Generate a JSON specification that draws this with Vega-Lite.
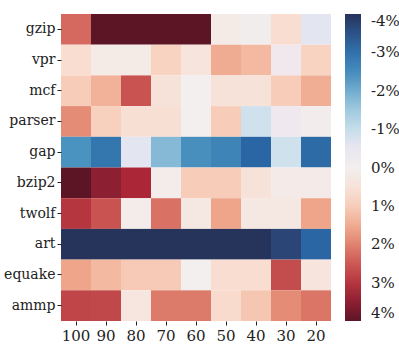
{
  "$schema": "https://vega.github.io/schema/vega-lite/v6.json",
  "autosize": "none",
  "width": 270,
  "height": 307,
  "padding": {"left": 61, "top": 14, "right": 68, "bottom": 26},
  "background": "white",
  "config": {
    "view": {"stroke": null},
    "font": "DejaVu Serif",
    "axis": {"labelFont": "DejaVu Serif", "labelFontSize": 15, "labelColor": "#222", "domain": false, "grid": false, "tickColor": "#222", "tickSize": 4, "title": null},
    "legend": {"labelFont": "DejaVu Serif", "labelFontSize": 15, "labelColor": "#222"}
  },
  "data": {"values": [
    {"b":"gzip","p":"100","v":2.3},{"b":"gzip","p":"90","v":4},{"b":"gzip","p":"80","v":4},{"b":"gzip","p":"70","v":4},{"b":"gzip","p":"60","v":4},{"b":"gzip","p":"50","v":0.2},{"b":"gzip","p":"40","v":-0.1},{"b":"gzip","p":"30","v":0.7},{"b":"gzip","p":"20","v":-0.6},
    {"b":"vpr","p":"100","v":0.7},{"b":"vpr","p":"90","v":0.2},{"b":"vpr","p":"80","v":0.2},{"b":"vpr","p":"70","v":0.9},{"b":"vpr","p":"60","v":0.4},{"b":"vpr","p":"50","v":1.5},{"b":"vpr","p":"40","v":1.3},{"b":"vpr","p":"30","v":-0.3},{"b":"vpr","p":"20","v":0.9},
    {"b":"mcf","p":"100","v":1.0},{"b":"mcf","p":"90","v":1.4},{"b":"mcf","p":"80","v":2.6},{"b":"mcf","p":"70","v":0.5},{"b":"mcf","p":"60","v":0.0},{"b":"mcf","p":"50","v":0.5},{"b":"mcf","p":"40","v":0.5},{"b":"mcf","p":"30","v":1.0},{"b":"mcf","p":"20","v":1.45},
    {"b":"parser","p":"100","v":1.9},{"b":"parser","p":"90","v":0.95},{"b":"parser","p":"80","v":0.6},{"b":"parser","p":"70","v":0.6},{"b":"parser","p":"60","v":0.0},{"b":"parser","p":"50","v":1.0},{"b":"parser","p":"40","v":-0.9},{"b":"parser","p":"30","v":-0.35},{"b":"parser","p":"20","v":-0.15},
    {"b":"gap","p":"100","v":-2.4},{"b":"gap","p":"90","v":-2.9},{"b":"gap","p":"80","v":-0.6},{"b":"gap","p":"70","v":-1.8},{"b":"gap","p":"60","v":-2.45},{"b":"gap","p":"50","v":-2.65},{"b":"gap","p":"40","v":-3.2},{"b":"gap","p":"30","v":-0.9},{"b":"gap","p":"20","v":-3.1},
    {"b":"bzip2","p":"100","v":4},{"b":"bzip2","p":"90","v":3.5},{"b":"bzip2","p":"80","v":3.2},{"b":"bzip2","p":"70","v":0.1},{"b":"bzip2","p":"60","v":1.0},{"b":"bzip2","p":"50","v":1.0},{"b":"bzip2","p":"40","v":0.5},{"b":"bzip2","p":"30","v":0.15},{"b":"bzip2","p":"20","v":0.15},
    {"b":"twolf","p":"100","v":3.0},{"b":"twolf","p":"90","v":2.6},{"b":"twolf","p":"80","v":0.1},{"b":"twolf","p":"70","v":2.2},{"b":"twolf","p":"60","v":0.3},{"b":"twolf","p":"50","v":1.6},{"b":"twolf","p":"40","v":0.3},{"b":"twolf","p":"30","v":0.3},{"b":"twolf","p":"20","v":1.6},
    {"b":"art","p":"100","v":-4},{"b":"art","p":"90","v":-4},{"b":"art","p":"80","v":-4},{"b":"art","p":"70","v":-4},{"b":"art","p":"60","v":-4},{"b":"art","p":"50","v":-4},{"b":"art","p":"40","v":-4},{"b":"art","p":"30","v":-3.7},{"b":"art","p":"20","v":-3.2},
    {"b":"equake","p":"100","v":1.6},{"b":"equake","p":"90","v":1.3},{"b":"equake","p":"80","v":1.05},{"b":"equake","p":"70","v":1.05},{"b":"equake","p":"60","v":0.0},{"b":"equake","p":"50","v":0.7},{"b":"equake","p":"40","v":0.7},{"b":"equake","p":"30","v":2.7},{"b":"equake","p":"20","v":0.4},
    {"b":"ammp","p":"100","v":2.8},{"b":"ammp","p":"90","v":2.75},{"b":"ammp","p":"80","v":0.35},{"b":"ammp","p":"70","v":2.1},{"b":"ammp","p":"60","v":2.1},{"b":"ammp","p":"50","v":0.75},{"b":"ammp","p":"40","v":1.1},{"b":"ammp","p":"30","v":1.9},{"b":"ammp","p":"20","v":2.15}
  ]},
  "mark": {"type": "rect"},
  "encoding": {
    "x": {"field": "p", "type": "ordinal", "sort": ["100","90","80","70","60","50","40","30","20"], "scale": {"paddingInner": 0, "paddingOuter": 0}, "axis": {"labelAngle": 0, "labelPadding": 3}},
    "y": {"field": "b", "type": "ordinal", "sort": ["gzip","vpr","mcf","parser","gap","bzip2","twolf","art","equake","ammp"], "scale": {"paddingInner": 0, "paddingOuter": 0}, "axis": {"labelPadding": 2, "labelFontSize": 14}},
    "color": {"field": "v", "type": "quantitative",
      "scale": {"domain": [4, 3.2, 2.4, 1.6, 0.8, 0, -0.8, -1.6, -2.4, -3.2, -4], "range": ["#5c1525","#ab2637","#d2605a","#eea58a","#f9dacb","#f2efee","#d5e5ee","#98c6dc","#4a92c0","#2a66a3","#26345c"], "clamp": true},
      "legend": {"title": null, "gradientLength": 307, "gradientThickness": 16, "gradientStrokeWidth": 0, "offset": 14, "values": [-4,-3,-2,-1,0,1,2,3,4], "labelExpr": "datum.value + '%'", "labelOffset": 10, "labelBaseline": "middle", "labelOverlap": false}
    }
  }
}
